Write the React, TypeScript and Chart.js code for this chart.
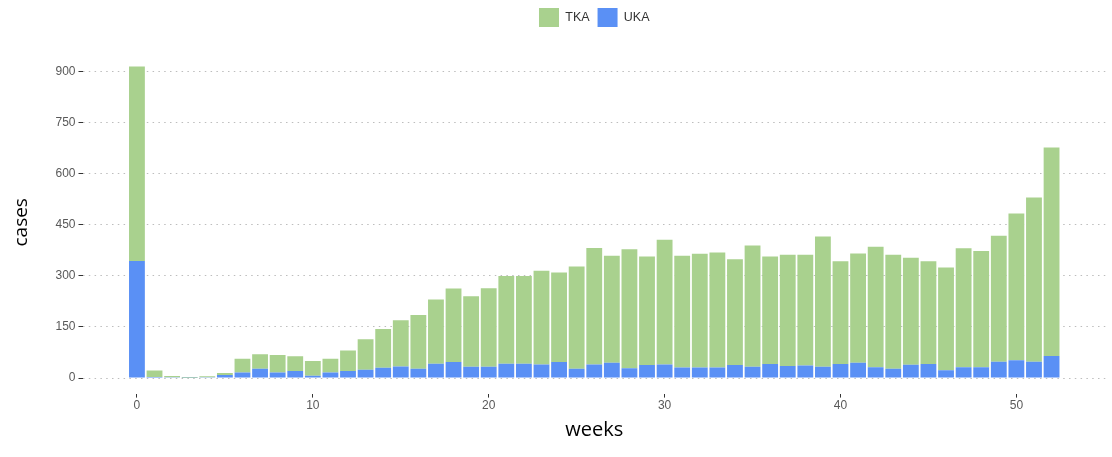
import React, { useEffect, useRef } from 'react';
import { Chart, registerables } from 'chart.js';

Chart.register(...registerables);

// ---- data ----
const weeks = [
  0, 1, 2, 3, 4, 5, 6, 7, 8, 9, 10, 11, 12, 13, 14, 15, 16, 17, 18, 19, 20,
  21, 22, 23, 24, 25, 26, 27, 28, 29, 30, 31, 32, 33, 34, 35, 36, 37, 38, 39,
  40, 41, 42, 43, 44, 45, 46, 47, 48, 49, 50, 51, 52,
];

// UKA cases per week (bottom segment)
const ukaCases = [
  344, 3, 2, 1, 2, 9, 16, 27, 16, 21, 7, 16, 21, 24, 30, 34, 27, 42, 47, 33, 33,
  42, 42, 40, 47, 27, 40, 45, 29, 38, 40, 31, 31, 31, 38, 33, 41, 35, 37, 33,
  41, 45, 32, 27, 39, 41, 23, 32, 32, 48, 52, 48, 65,
];

// TKA cases per week (segment stacked on top of UKA)
const tkaCases = [
  571, 19, 4, 2, 3, 6, 41, 43, 52, 43, 43, 41, 60, 90, 114, 136, 158, 189, 216,
  207, 231, 258, 258, 275, 263, 301, 342, 314, 349, 319, 366, 328, 334, 338,
  311, 356, 316, 327, 325, 383, 302, 321, 354, 335, 314, 302, 302, 349, 341,
  370, 431, 482, 612,
];

const xTickValues = [0, 10, 20, 30, 40, 50];
const yTickValues = [0, 150, 300, 450, 600, 750, 900];

const xTitle = 'weeks';
const yTitle = 'cases';
const tkaLabel = 'TKA';
const ukaLabel = 'UKA';

const TKA_COLOR = '#a9d18e';
const UKA_COLOR = '#5a90f5';

export default function App() {
  const canvasRef = useRef<HTMLCanvasElement | null>(null);

  useEffect(() => {
    document.body.style.margin = '0';
    document.body.style.overflow = 'hidden';
    const canvas = canvasRef.current;
    if (!canvas) return;

    const tickFont = { family: "'Liberation Sans', Arial, sans-serif", size: 12 };
    const titleFont = { family: "'Open Sans', sans-serif", size: 20 };

    const chart = new Chart(canvas, {
      type: 'bar',
      data: {
        datasets: [
          {
            label: ukaLabel,
            data: weeks.map((w, i) => ({ x: w, y: ukaCases[i] })),
            backgroundColor: UKA_COLOR,
            borderWidth: 0,
            barPercentage: 0.9,
            categoryPercentage: 1,
          },
          {
            label: tkaLabel,
            data: weeks.map((w, i) => ({ x: w, y: tkaCases[i] })),
            backgroundColor: TKA_COLOR,
            borderWidth: 0,
            barPercentage: 0.9,
            categoryPercentage: 1,
          },
        ],
      },
      options: {
        responsive: false,
        animation: false,
        layout: { padding: { left: 0, right: 6, top: 0, bottom: 0 } },
        plugins: {
          legend: {
            display: true,
            position: 'top',
            align: 'center',
            fullSize: false,
            reverse: true,
            labels: {
              boxWidth: 20,
              boxHeight: 19,
              padding: 8,
              color: '#333333',
              font: { family: "'Liberation Sans', Arial, sans-serif", size: 12.5 },
            },
          },
          // empty spacer between legend and plot area
          title: {
            display: true,
            text: '',
            weight: 500,
            font: { size: 10, lineHeight: 1 },
            padding: { top: 0, bottom: 4 },
          },
          tooltip: { enabled: false },
        },
        scales: {
          x: {
            type: 'linear',
            stacked: true,
            offset: false,
            min: -3.095,
            max: 55.095,
            afterBuildTicks: (scale: any) => {
              scale.ticks = xTickValues.map((v) => ({ value: v }));
            },
            afterFit: (scale: any) => {
              scale.height = 63.4;
            },
            grid: {
              display: true,
              offset: false,
              drawOnChartArea: false,
              drawTicks: true,
              tickLength: 4,
              tickColor: '#333333',
              tickWidth: 1,
            },
            border: { display: false },
            ticks: {
              color: '#595959',
              font: tickFont,
              padding: 1,
              maxRotation: 0,
              autoSkip: false,
            },
            title: {
              display: true,
              text: xTitle,
              color: '#000000',
              font: titleFont,
              padding: { top: 0, bottom: 15 },
            },
          },
          y: {
            type: 'linear',
            stacked: true,
            min: -45.75,
            max: 960.75,
            afterBuildTicks: (scale: any) => {
              scale.ticks = yTickValues.map((v) => ({ value: v }));
            },
            afterFit: (scale: any) => {
              scale.width = 82.5;
            },
            grid: {
              display: true,
              offset: false,
              color: '#bdbdbd',
              lineWidth: 1,
              drawTicks: true,
              tickLength: 4,
              tickColor: '#333333',
              tickWidth: 1,
              tickBorderDash: [],
            },
            border: { display: false, dash: [1.5, 4.3] },
            ticks: {
              color: '#595959',
              font: tickFont,
              padding: 3,
              autoSkip: false,
            },
            title: {
              display: true,
              text: yTitle,
              color: '#000000',
              font: { family: "'Open Sans', sans-serif", size: 19 },
              padding: { top: 10, bottom: 0 },
            },
          },
        },
      },
    } as any);

    return () => {
      chart.destroy();
    };
  }, []);

  return (
    <div style={{ width: 1112, height: 457, position: 'relative' }}>
      <canvas ref={canvasRef} width={1112} height={457} style={{ display: 'block' }} />
    </div>
  );
}
